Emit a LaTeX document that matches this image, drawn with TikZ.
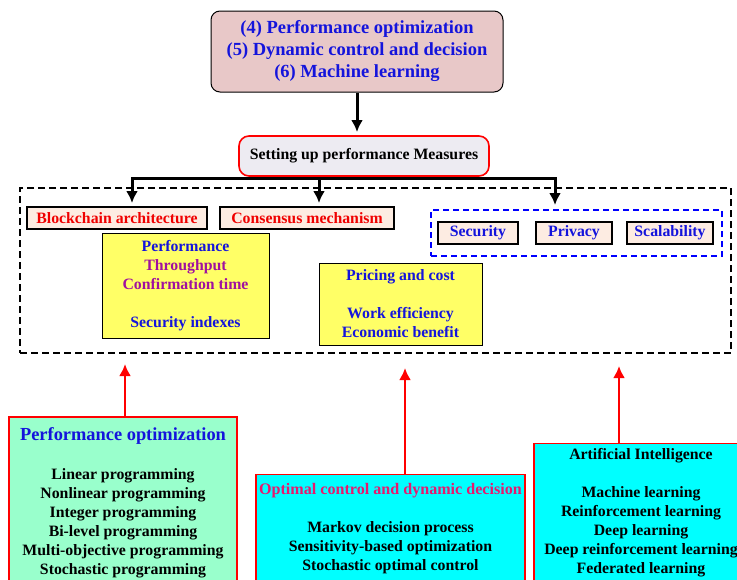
\documentclass[tikz,border=0pt]{standalone}
\usepackage{fontspec}
\setmainfont{Liberation Serif}
\usetikzlibrary{arrows.meta, calc, positioning}

\definecolor{topfill}{HTML}{E8C8C8}
\definecolor{measfill}{HTML}{EDEBF2}
\definecolor{peach}{HTML}{FDECE2}
\definecolor{lemon}{HTML}{FFFF66}
\definecolor{mint}{HTML}{99FFCC}
\definecolor{aqua}{HTML}{00FFFF}
\definecolor{txtblue}{HTML}{1414DC}
\definecolor{txtpurple}{HTML}{A010A0}
\definecolor{txtred}{HTML}{F00000}
\definecolor{txtcrimson}{HTML}{E8186E}
\newcommand{\blkArrow}{{Latex[length=12pt,width=12pt]}}
\newcommand{\redArrow}{{Latex[length=12pt,width=12pt]}}
\newcommand{\bigfont}[1]{\fontsize{#1}{22}\selectfont}

\begin{document}
\begin{tikzpicture}[x=1pt, y=-1pt, font=\bfseries\fontsize{15.8}{19}\selectfont,
	tagbox/.style={draw, line width=1.4pt, fill=peach, inner sep=0pt, minimum height=22},
	notebox/.style={draw, line width=1pt, fill=lemon, inner sep=0pt, align=center, text=txtblue},
	methodbox/.style={draw=red, line width=1.6pt, inner sep=0pt, anchor=north},
	methodtxt/.style={anchor=north, inner sep=0pt, align=center},
	blk/.style={line width=3pt, -\blkArrow},
	redarr/.style={draw=red, line width=2.6pt, -\redArrow}]
	\clip (0,0) rectangle (737,579);

	% top and measures
	\node[draw, line width=1pt, rounded corners=9, fill=topfill, minimum width=292, minimum height=81,
		align=center, text=txtblue, font=\bfseries\bigfont{18.5}] (top) at (357,51.5)
		{(4) Performance optimization\\(5) Dynamic control and decision\\(6) Machine learning};
	\node[draw=red, line width=1.6pt, rounded corners=10, fill=measfill, minimum width=250, minimum height=40,
		font=\bfseries\fontsize{15.8}{18}\selectfont] (meas) at (364,156) {Setting up performance Measures};
	\coordinate (tipTop) at (357,132);
	\draw[blk] (top.south -| tipTop) -- (tipTop);

	% measures frame
	\node[draw, dash pattern=on 7pt off 4pt, line width=1.5pt, minimum width=711, minimum height=165, inner sep=0pt] (frame) at (375.5,270.5) {};
	\node[tagbox, minimum width=180, text=txtred] (bca) at (117,218) {Blockchain architecture};
	\node[tagbox, minimum width=174, text=txtred] (cons) at (307,218) {Consensus mechanism};
	\node[draw=blue, dash pattern=on 6pt off 4pt, line width=1.5pt, minimum width=291, minimum height=46, inner sep=0pt] (grp) at (576.5,233) {};
	\node[tagbox, minimum width=80, text=txtblue] (sec) at (478,233) {Security};
	\node[tagbox, minimum width=76, text=txtblue] (priv) at (574,233) {Privacy};
	\node[tagbox, minimum width=86, text=txtblue] (scal) at (670,233) {Scalability};
	\node[notebox, minimum width=167, minimum height=105] (perf) at (185.5,285.5)
		{Performance\\\textcolor{txtpurple}{Throughput}\\\textcolor{txtpurple}{Confirmation time}\\[19pt]Security indexes};
	\node[notebox, minimum width=163, minimum height=82] (cost) at (400.5,304)
		{Pricing and cost\\[19pt]Work efficiency\\Economic benefit};

	\coordinate (hub) at ($(meas.south)+(0,1.5)$);
	\coordinate (tipA) at (132,203);
	\coordinate (tipB) at (319,203);
	\coordinate (tipC) at (555,205);
	\draw[blk] (hub) -| (tipA);
	\draw[blk] (hub) -| (tipB);
	\draw[blk] (hub) -| (tipC);

	% method boxes
	\node[methodbox, fill=mint, minimum width=228, minimum height=200] (opt) at (123,416) {};
	\node[methodtxt] (opttxt) at ($(opt.north)+(0,11)$)
		{\textcolor{txtblue}{\bigfont{18.4}Performance optimization}\\[20pt]Linear programming\\Nonlinear programming\\Integer programming\\Bi-level programming\\Multi-objective programming\\Stochastic programming};
	\node[methodbox, fill=aqua, minimum width=269, minimum height=150] (ctrl) at (390.5,473.5) {};
	\node[methodtxt] (ctrltxt) at ($(ctrl.north)+(0,10)$)
		{\textcolor{txtcrimson}{\bigfont{16.1}Optimal control and dynamic decision}\\[19pt]Markov decision process\\Sensitivity-based optimization\\Stochastic optimal control};
	\node[methodbox, fill=aqua, minimum width=230, minimum height=180, anchor=north west] (ai) at (533,442.5) {};
	\node[methodtxt] (aitxt) at (641,448.5)
		{Artificial Intelligence\\[19pt]Machine learning\\Reinforcement learning\\Deep learning\\Deep reinforcement learning\\Federated learning};

	\coordinate (upA) at (125,364);
	\coordinate (upB) at (405,368);
	\coordinate (upC) at (619,366);
	\draw[redarr] (opt.north -| upA) -- (upA);
	\draw[redarr] (ctrl.north -| upB) -- (upB);
	\draw[redarr] (ai.north -| upC) -- (upC);
\end{tikzpicture}
\end{document}
